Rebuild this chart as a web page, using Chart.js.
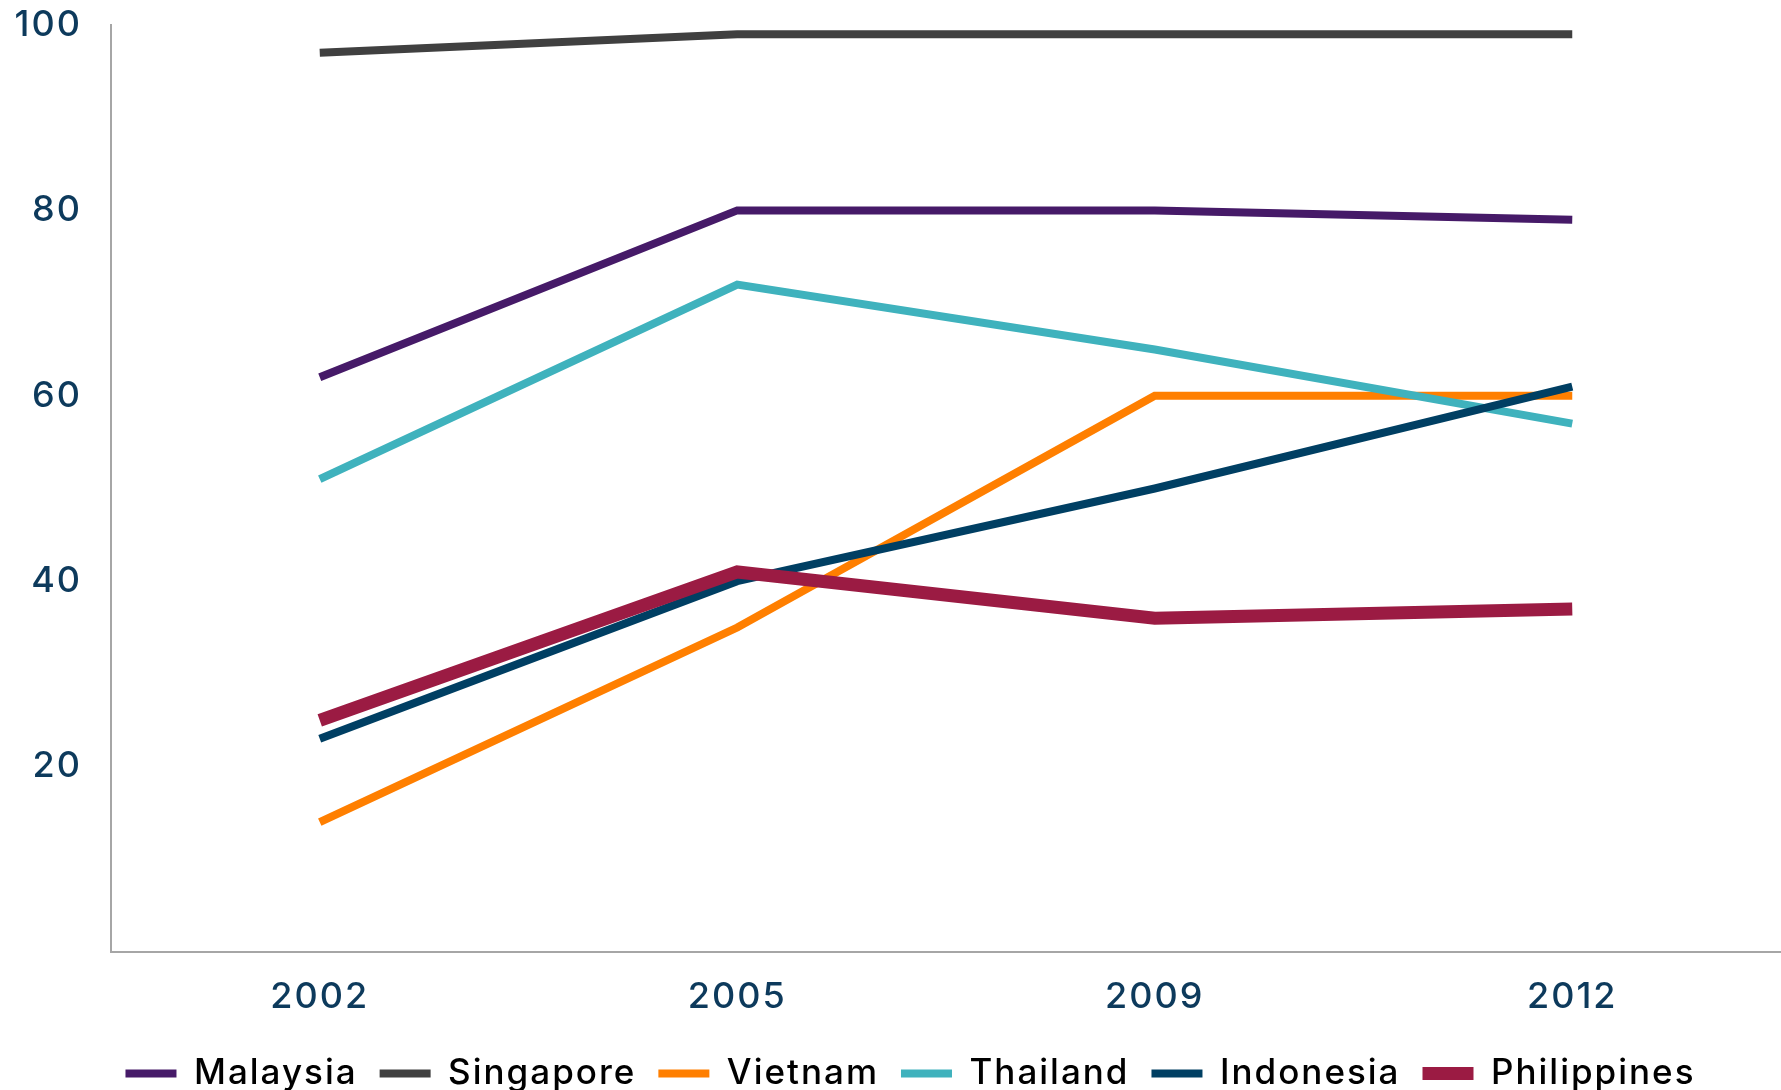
<!DOCTYPE html>
<html>
<head>
<meta charset="utf-8">
<title>Line chart</title>
<script src="https://cdn.jsdelivr.net/npm/chart.js@4.4.1/dist/chart.umd.min.js"></script>
<style>
  html, body { margin: 0; padding: 0; background: #fff; }
  #wrap { width: 1781px; height: 1090px; position: relative; }
</style>
</head>
<body>
<div id="wrap"><canvas id="lineChart"></canvas></div>
<script>
const years = ["2002", "2005", "2009", "2012"];

const malaysia    = [62, 80, 80, 79];
const singapore   = [97, 99, 99, 99];
const vietnam     = [14, 35, 60, 60];
const thailand    = [51, 72, 65, 57];
const indonesia   = [23, 40, 50, 61];
const philippines = [25, 41, 36, 37];

const yTicks = [20, 40, 60, 80, 100];

const FONT = "Inter, 'Noto Sans', sans-serif";

// later series sit on top, so order counts down
function series(label, data, color, width, order) {
  return {
    label, data, order,
    borderColor: color,
    backgroundColor: color,
    borderWidth: width,
    borderCapStyle: 'butt',
    borderJoinStyle: 'miter',
    pointRadius: 0,
    pointHoverRadius: 0,
    tension: 0,
    fill: false
  };
}

// slightly wider lettering for all chart text
const spacing = {
  id: 'spacing',
  beforeUpdate: chart => { chart.ctx.letterSpacing = '2px'; },
  beforeDraw: chart => { chart.ctx.letterSpacing = '2px'; }
};

// nudge the legend row a little right and down
const legendShift = {
  id: 'legendShift',
  afterLayout: chart => {
    const lg = chart.legend;
    lg.left += 20; lg.right += 20;
    lg.top += 12; lg.bottom += 12;
  }
};

const ctx = document.getElementById("lineChart").getContext("2d");
new Chart(ctx, {
  type: 'line',
  plugins: [spacing, legendShift],
  data: {
    labels: years,
    datasets: [
      series("Malaysia", malaysia, "#461a68", 8, 6),
      series("Singapore", singapore, "#404040", 8, 5),
      series("Vietnam", vietnam, "#ff7f00", 8, 4),
      series("Thailand", thailand, "#3fb2bd", 8, 3),
      series("Indonesia", indonesia, "#003f63", 8, 2),
      series("Philippines", philippines, "#9b1b43", 13, 1)
    ]
  },
  options: {
    responsive: true,
    maintainAspectRatio: false,
    animation: false,
    layout: { padding: { top: 0, right: 0, bottom: 1, left: 0 } },
    plugins: {
      tooltip: { enabled: false },
      legend: {
        position: 'bottom',
        labels: {
          usePointStyle: true,
          pointStyle: 'line',
          pointStyleWidth: 51,
          boxHeight: 13,
          padding: 22,
          color: '#000000',
          font: { family: FONT, size: 35, weight: 500 },
          sort: (a, b) => a.datasetIndex - b.datasetIndex
        }
      }
    },
    scales: {
      x: {
        offset: true,
        afterFit: scale => { scale.height = 70; },
        grid: { display: false, drawTicks: false },
        border: { display: true, color: '#a6a6a6', width: 2 },
        ticks: {
          padding: 24,
          color: '#0d3a5c',
          font: { family: FONT, size: 36, weight: 500 }
        }
      },
      y: {
        min: 0,
        max: 100,
        afterFit: scale => {
          scale.width = 111;
          scale.paddingTop = 25;
        },
        afterBuildTicks: scale => {
          scale.ticks = [0].concat(yTicks).map(v => ({ value: v }));
        },
        grid: { display: false, drawTicks: false },
        border: { display: true, color: '#a6a6a6', width: 2 },
        ticks: {
          padding: 29,
          color: '#0d3a5c',
          font: { family: FONT, size: 36, weight: 500 },
          callback: v => (v === 0 ? '' : v)
        }
      }
    }
  }
});
</script>
</body>
</html>
